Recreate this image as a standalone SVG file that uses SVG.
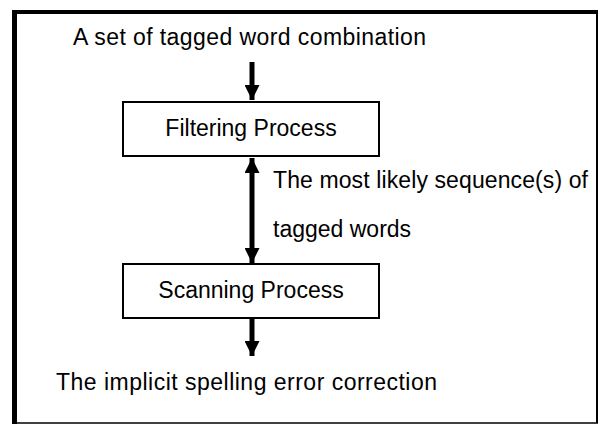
<svg xmlns="http://www.w3.org/2000/svg" width="603" height="425" viewBox="0 0 603 425">
<defs>
<marker id="ah" viewBox="0 0 10 10" refX="10" refY="5" markerWidth="3" markerHeight="3" orient="auto-start-reverse" markerUnits="strokeWidth">
<path d="M0,0 L10,5 L0,10 Z" fill="#000"/>
</marker>
<style>
text{font-family:"Liberation Sans",Arial,sans-serif;font-size:23px;fill:#000}
.box{fill:#fff;stroke:#000;stroke-width:2}
.conn{stroke:#000;stroke-width:5;fill:none}
</style>
</defs>
<rect width="603" height="425" fill="#fff"/>
<g id="frame">
<line x1="12" y1="12" x2="598" y2="12" stroke="#000" stroke-width="4"/>
<line x1="14.5" y1="10" x2="14.5" y2="424" stroke="#000" stroke-width="5"/>
<line x1="597" y1="11" x2="597" y2="423" stroke="#000" stroke-width="2"/>
<line x1="12" y1="423" x2="598" y2="423" stroke="#000" stroke-width="1.5"/>
</g>
<g id="connectors">
<line class="conn" x1="252" y1="62" x2="252" y2="100" marker-end="url(#ah)"/>
<line class="conn" x1="252" y1="158" x2="252" y2="263" marker-start="url(#ah)" marker-end="url(#ah)"/>
<line class="conn" x1="252" y1="318" x2="252" y2="356" marker-end="url(#ah)"/>
</g>
<g id="input">
<text x="73" y="45" textLength="353">A set of tagged word combination</text>
</g>
<g id="filtering">
<rect class="box" x="123" y="102" width="256" height="54"/>
<text x="251" y="136" text-anchor="middle">Filtering Process</text>
</g>
<g id="label">
<text x="273" y="188" textLength="315">The most likely sequence(s) of</text>
<text x="273" y="237">tagged words</text>
</g>
<g id="scanning">
<rect class="box" x="123" y="264" width="256" height="54"/>
<text x="251" y="298" text-anchor="middle">Scanning Process</text>
</g>
<g id="output">
<text x="56" y="390" textLength="381">The implicit spelling error correction</text>
</g>
</svg>
